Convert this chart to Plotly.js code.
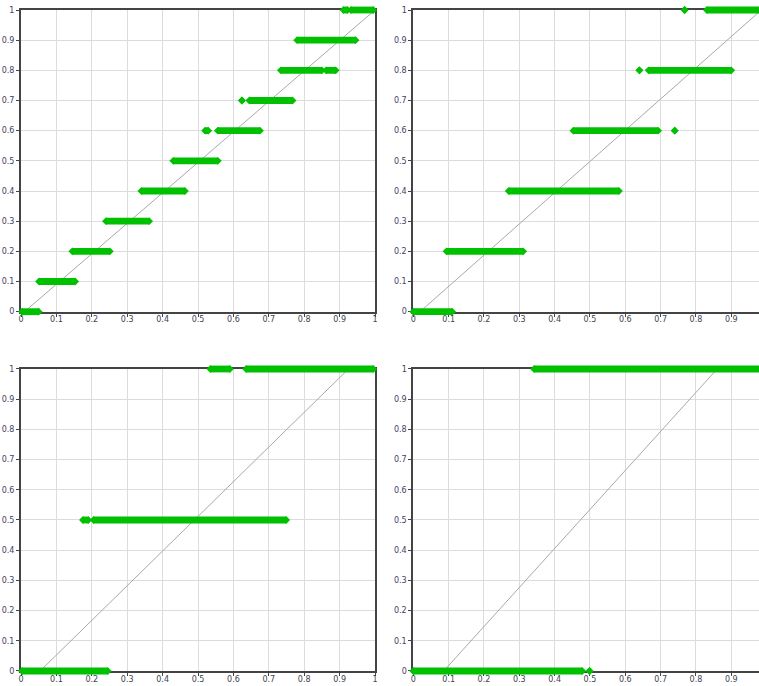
<!DOCTYPE html>
<html><head><meta charset="utf-8">
<script src="https://cdn.plot.ly/plotly-3.0.1.min.js"></script>
<style>html,body{margin:0;padding:0;background:#fff}#chart{width:759px;height:686px}</style>
</head><body><div id="chart"></div>
<script>
// ---- tick labels ----
const tickVals = [0, 0.1, 0.2, 0.3, 0.4, 0.5, 0.6, 0.7, 0.8, 0.9, 1];
const tickText = ['0', '0.1', '0.2', '0.3', '0.4', '0.5', '0.6', '0.7', '0.8', '0.9', '1'];

// ---- top-left panel: bands (level, start x, end x) ----
const tlLevel = [0, 0.1, 0.2, 0.3, 0.4, 0.5, 0.6, 0.6, 0.7, 0.7, 0.8, 0.8, 0.9, 1, 1];
const tlStart = [0.003, 0.051, 0.145, 0.240, 0.340, 0.430, 0.520, 0.556, 0.624, 0.645, 0.734, 0.862, 0.780, 0.911, 0.932];
const tlEnd   = [0.050, 0.153, 0.251, 0.362, 0.463, 0.556, 0.529, 0.675, 0.624, 0.767, 0.850, 0.889, 0.945, 0.922, 0.995];
const tlDiagX = [0.01, 1.0];
const tlDiagY = [0, 1];

// ---- top-right panel ----
const trLevel = [0, 0.2, 0.4, 0.6, 0.6, 0.8, 0.8, 1, 1];
const trStart = [0.0, 0.094, 0.270, 0.453, 0.740, 0.640, 0.666, 0.768, 0.831];
const trEnd   = [0.110, 0.311, 0.582, 0.693, 0.740, 0.640, 0.900, 0.768, 0.995];
const trDiagX = [0.019, 0.985];
const trDiagY = [0, 1];

// ---- bottom-left panel ----
const blLevel = [0, 0.5, 0.5, 1, 1];
const blStart = [0.003, 0.175, 0.205, 0.535, 0.636];
const blEnd   = [0.245, 0.190, 0.749, 0.590, 0.995];
const blDiagX = [0.054, 0.925];
const blDiagY = [0, 1];

// ---- bottom-right panel ----
const brLevel = [0, 0, 1];
const brStart = [0.0, 0.499, 0.342];
const brEnd   = [0.478, 0.499, 0.995];
const brDiagX = [0.086, 0.86];
const brDiagY = [0, 1];

const GREEN = '#00c000';
const DIAG = '#a8a8a8';

const data = [];
const shapes = [];

function addPanel(level, start, end, dx, dy, xa, ya) {
  data.push({type: 'scatter', mode: 'lines', x: dx, y: dy, xaxis: xa, yaxis: ya,
     line: {color: DIAG, width: 1}, hoverinfo: 'skip', showlegend: false});
  data.push({type: 'scatter', mode: 'markers', x: start.concat(end), y: level.concat(level),
     xaxis: xa, yaxis: ya, cliponaxis: false,
     marker: {symbol: 'diamond', size: 6, color: GREEN, line: {width: 0}},
     hoverinfo: 'skip', showlegend: false});
  const yRef = (ya === 'y' ? 'y' : ya) + ' domain';
  level.forEach((lv, i) => {
    if (end[i] > start[i]) {
      shapes.push({type: 'rect', xref: xa, yref: yRef, x0: start[i], x1: end[i],
        ysizemode: 'pixel', yanchor: lv, y0: -3.4, y1: 3.4,
        fillcolor: GREEN, line: {width: 0}, layer: 'above'});
    }
  });
}

addPanel(tlLevel, tlStart, tlEnd, tlDiagX, tlDiagY, 'x', 'y');
addPanel(trLevel, trStart, trEnd, trDiagX, trDiagY, 'x2', 'y2');
addPanel(blLevel, blStart, blEnd, blDiagX, blDiagY, 'x3', 'y3');
addPanel(brLevel, brStart, brEnd, brDiagX, brDiagY, 'x4', 'y4');

function axis(domain, range, anchor, mirror, labelColor, isX) {
  const a = {
    domain: domain, range: range, anchor: anchor, autorange: false,
    tickmode: 'array', tickvals: tickVals, ticktext: tickText,
    ticks: 'outside', ticklen: 3, tickwidth: 1, tickcolor: '#444',
    showline: true, linecolor: '#444', linewidth: 2, mirror: mirror,
    showgrid: true, gridcolor: '#dcdcdc', gridwidth: 1, zeroline: false,
    layer: 'below traces', fixedrange: true,
    tickfont: {family: 'DejaVu Sans, sans-serif', size: 8, color: labelColor}
  };
  if (isX) a.ticklabelstandoff = -4;
  return a;
}

const XC = '#3c4450', YC = '#483c64';
const leftD = [0, 0.4797], rightD = [0.5316, 1];
const topD = [0.5436, 1], botD = [0, 0.4569];
const rightRange = [0, 0.9785];

const layout = {
  width: 759, height: 686,
  margin: {l: 21, r: 0, t: 10, b: 15},
  paper_bgcolor: '#fff', plot_bgcolor: '#fff',
  showlegend: false, shapes: shapes,
  xaxis:  axis(leftD, [0, 1], 'y', true, XC, true),
  yaxis:  axis(topD, [0, 1], 'x', true, YC, false),
  xaxis2: axis(rightD, rightRange, 'y2', true, XC, true),
  yaxis2: axis(topD, [0, 1], 'x2', false, YC, false),
  xaxis3: axis(leftD, [0, 1], 'y3', true, XC, true),
  yaxis3: axis(botD, [0, 1], 'x3', true, YC, false),
  xaxis4: axis(rightD, rightRange, 'y4', true, XC, true),
  yaxis4: axis(botD, [0, 1], 'x4', false, YC, false)
};

Plotly.newPlot('chart', data, layout, {displayModeBar: false, staticPlot: true});
</script>
</body></html>
